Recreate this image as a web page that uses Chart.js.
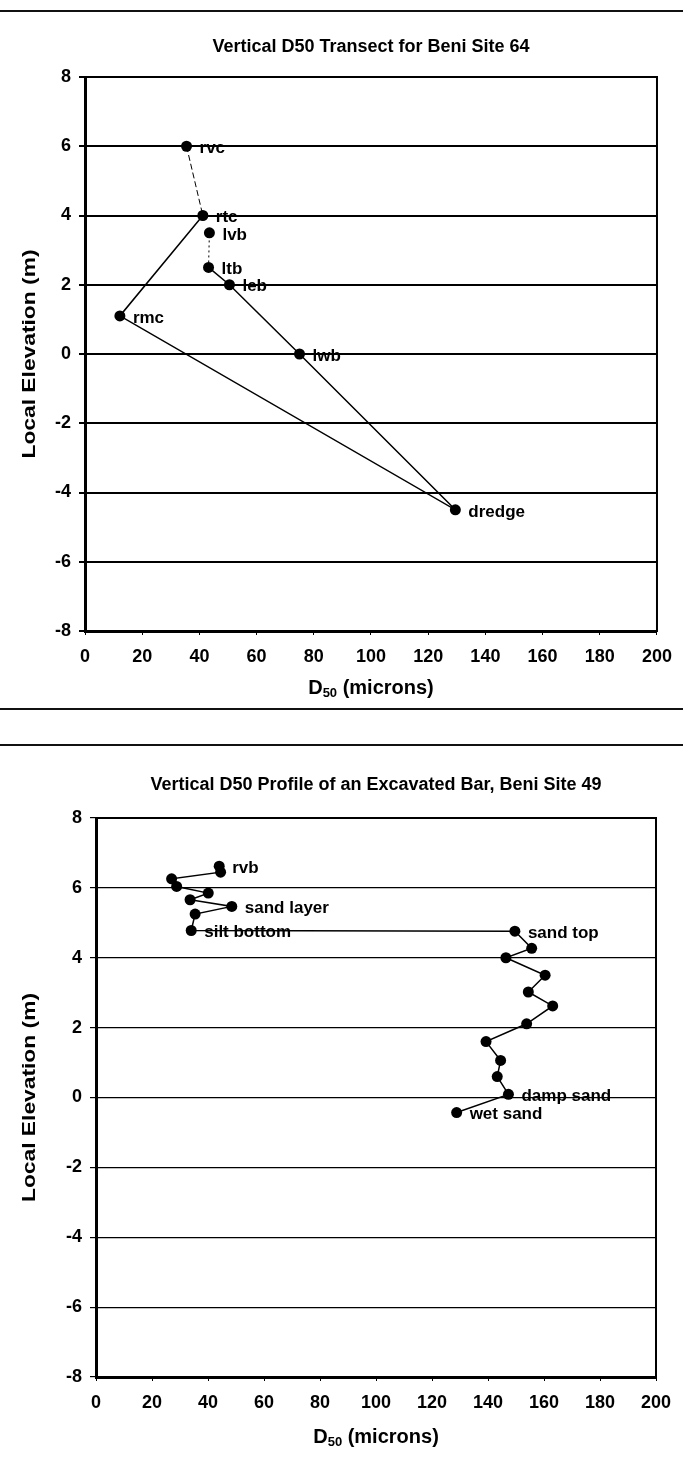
<!DOCTYPE html>
<html>
<head>
<meta charset="utf-8">
<script src="https://cdn.jsdelivr.net/npm/chart.js@4.4.1/dist/chart.umd.min.js"></script>
<style>
  html, body { margin: 0; padding: 0; background: #fff; }
  #page { position: relative; width: 683px; height: 1458px; background: #fff; overflow: hidden; }
  .rule { position: absolute; left: 0; width: 683px; height: 2px; background: #111; }
  .box { position: absolute; left: 0; width: 683px; }
</style>
</head>
<body>
<div id="page">
  <div class="rule" style="top:10px"></div>
  <div class="box" style="top:20px;height:690px"><canvas id="topChart"></canvas></div>
  <div class="rule" style="top:708px"></div>
  <div class="rule" style="top:744px"></div>
  <div class="box" style="top:740px;height:718px"><canvas id="bottomChart"></canvas></div>
</div>
<script>
// Site 64 transect, in the order the line visits the samples
const site64Names = ['rvc', 'rtc', 'rmc', 'dredge', 'lwb', 'leb', 'ltb', 'lvb'];
const site64D50 = [35.5, 41.2, 12.2, 129.5, 75.0, 50.5, 43.2, 43.5];
const site64Elev = [6.0, 4.0, 1.1, -4.5, 0.0, 2.0, 2.5, 3.5];

// Site 49 excavated bar, top to bottom
const site49Names = ['rvb', '', '', '', '', '', 'sand layer', '', 'silt bottom', 'sand top',
  '', '', '', '', '', '', '', '', '', 'damp sand', 'wet sand'];
const site49D50 = [44.0, 44.5, 27.0, 28.8, 40.1, 33.6, 48.5, 35.4, 34.0, 149.6,
  155.6, 146.4, 160.4, 154.4, 163.1, 153.8, 139.3, 144.5, 143.3, 147.3, 128.8];
const site49Elev = [6.62, 6.45, 6.26, 6.04, 5.85, 5.66, 5.47, 5.25, 4.78, 4.76,
  4.27, 4.0, 3.5, 3.02, 2.62, 2.11, 1.6, 1.06, 0.6, 0.09, -0.43];

const xTicks = { min: 0, max: 200, step: 20 };
const yTicks = { min: -8, max: 8, step: 2 };

const FONT = "'Liberation Sans', Arial, Helvetica, sans-serif";

// box around the plot area
const framePlugin = {
  id: 'frame',
  beforeDatasetsDraw(chart) {
    const { ctx, chartArea: a } = chart;
    ctx.save();
    ctx.strokeStyle = '#000';
    ctx.lineWidth = 2;
    ctx.strokeRect(a.left, a.top, a.right - a.left, a.bottom - a.top);
    ctx.restore();
  }
};

// sample names next to the markers
const pointLabelPlugin = {
  id: 'pointLabels',
  afterDatasetsDraw(chart, args, opts) {
    const { ctx } = chart;
    const meta = chart.getDatasetMeta(0);
    ctx.save();
    ctx.fillStyle = '#000';
    ctx.font = 'bold 17px ' + FONT;
    ctx.textAlign = 'left';
    ctx.textBaseline = 'middle';
    opts.names.forEach((name, i) => {
      if (!name) return;
      const pt = meta.data[i];
      ctx.fillText(name, pt.x + 13, pt.y + 2);
    });
    ctx.restore();
  }
};

// chart title, rotated y title and the D50 x title with its subscript
const titlesPlugin = {
  id: 'titles',
  afterDraw(chart, args, opts) {
    const { ctx, chartArea: a } = chart;
    const cx = (a.left + a.right) / 2;
    ctx.save();
    ctx.fillStyle = '#000';
    ctx.textBaseline = 'middle';

    ctx.font = 'bold 18px ' + FONT;
    ctx.textAlign = 'center';
    ctx.fillText(opts.text, cx, opts.titleY);

    // the y title runs long, so stretch it along its length
    ctx.save();
    ctx.translate(opts.yTitleX, (a.top + a.bottom) / 2);
    ctx.rotate(-Math.PI / 2);
    ctx.scale(1.2, 1);
    ctx.font = 'bold 19px ' + FONT;
    ctx.fillText('Local Elevation (m)', 0, 0);
    ctx.restore();

    const big = 'bold 20px ' + FONT;
    const small = 'bold 13px ' + FONT;
    ctx.font = big;
    const wD = ctx.measureText('D').width;
    const wRest = ctx.measureText(' (microns)').width;
    ctx.font = small;
    const wSub = ctx.measureText('50').width;
    let x = cx - (wD + wSub + wRest) / 2;
    ctx.textAlign = 'left';
    ctx.font = big;
    ctx.fillText('D', x, opts.xTitleY);
    x += wD;
    ctx.font = small;
    ctx.fillText('50', x, opts.xTitleY + 5);
    x += wSub;
    ctx.font = big;
    ctx.fillText(' (microns)', x, opts.xTitleY);
    ctx.restore();
  }
};

function makeChart(id, cfg) {
  const points = cfg.d50.map((v, i) => ({ x: v, y: cfg.elev[i] }));
  return new Chart(document.getElementById(id), {
    type: 'scatter',
    data: {
      datasets: [{
        data: points,
        showLine: true,
        borderColor: '#000',
        borderWidth: 1.5,
        pointRadius: 5.5,
        pointBackgroundColor: '#000',
        pointBorderWidth: 0,
        segment: cfg.segment || {}
      }]
    },
    plugins: [framePlugin, pointLabelPlugin, titlesPlugin],
    options: {
      responsive: true,
      maintainAspectRatio: false,
      animation: false,
      layout: { padding: { top: cfg.padTop, right: cfg.padRight, left: 0, bottom: 0 } },
      plugins: {
        legend: { display: false },
        tooltip: { enabled: false },
        pointLabels: { names: cfg.names },
        titles: { text: cfg.title, titleY: cfg.titleY, yTitleX: 30, xTitleY: cfg.xTitleY }
      },
      scales: {
        x: {
          type: 'linear',
          min: xTicks.min,
          max: xTicks.max,
          ticks: {
            stepSize: xTicks.step,
            color: '#000',
            padding: 11,
            maxRotation: 0,
            autoSkip: false,
            font: { family: FONT, size: 18, weight: 'bold' }
          },
          grid: { drawOnChartArea: false, color: '#000', lineWidth: 1, tickLength: 4 },
          border: { color: '#000', width: 3 },
          afterFit(scale) { scale.height = cfg.xAxisHeight; }
        },
        y: {
          type: 'linear',
          min: yTicks.min,
          max: yTicks.max,
          ticks: {
            stepSize: yTicks.step,
            color: '#000',
            padding: 8,
            font: { family: FONT, size: 18, weight: 'bold' }
          },
          grid: { color: '#000', lineWidth: cfg.gridWidth, tickLength: 6 },
          border: { color: '#000', width: 3 },
          afterFit(scale) { scale.width = cfg.yAxisWidth; }
        }
      }
    }
  });
}

makeChart('topChart', {
  names: site64Names,
  d50: site64D50,
  elev: site64Elev,
  title: 'Vertical D50 Transect for Beni Site 64',
  titleY: 27,
  xTitleY: 668,
  padTop: 57,
  padRight: 26,
  yAxisWidth: 85,
  xAxisHeight: 79,
  gridWidth: 2,
  segment: {
    // rvc-rtc is dashed, ltb-lvb is dotted
    borderDash: ctx => ctx.p0DataIndex === 0 ? [6, 3] : (ctx.p0DataIndex === 6 ? [2, 3] : undefined),
    borderWidth: ctx => (ctx.p0DataIndex === 0 || ctx.p0DataIndex === 6) ? 1 : undefined
  }
});

makeChart('bottomChart', {
  names: site49Names,
  d50: site49D50,
  elev: site49Elev,
  title: 'Vertical D50 Profile of an Excavated Bar, Beni Site 49',
  titleY: 45,
  xTitleY: 697,
  padTop: 78,
  padRight: 27,
  yAxisWidth: 96,
  xAxisHeight: 81,
  gridWidth: 1.2
});
</script>
</body>
</html>
